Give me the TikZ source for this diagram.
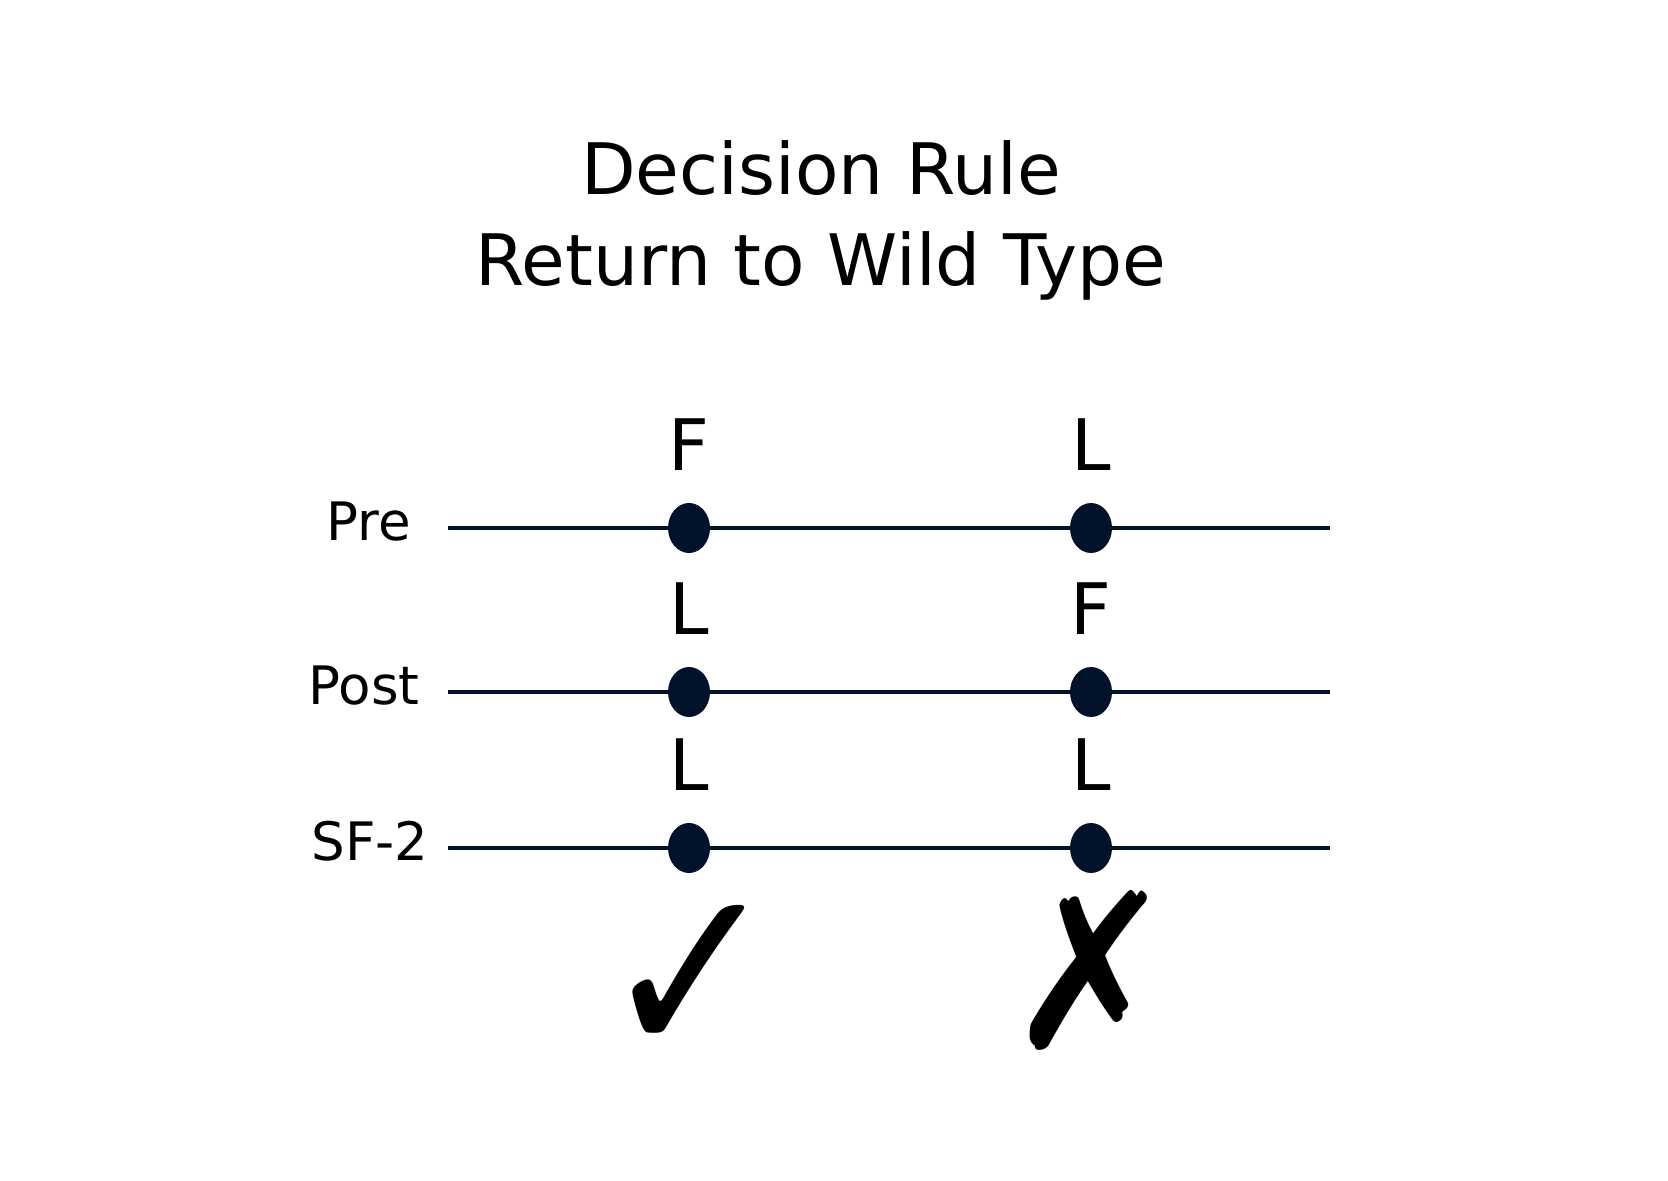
\documentclass[tikz,border=0pt]{standalone}
\usepackage{fontspec}
\setmainfont{DejaVu Sans}
\usetikzlibrary{shapes.geometric}
\definecolor{linenavy}{HTML}{02122B}
\begin{document}
\begin{tikzpicture}
  [
    x=0.5pt, y=-0.5pt,
    track/.style={draw=linenavy, line width=2.2pt},
    allele/.style={ellipse, fill=linenavy, inner sep=0pt, minimum width=21pt, minimum height=25pt},
    letter/.style={font=\fontsize{35.5}{40}\selectfont, anchor=base, inner sep=0pt},
    rowlabel/.style={font=\fontsize{26.5}{30}\selectfont, anchor=base, inner sep=0pt},
    heading/.style={font=\fontsize{35.5}{40}\selectfont, anchor=base, inner sep=0pt},
    verdict/.style={inner sep=0pt},
  ]
  \useasboundingbox (0,0) rectangle (1668,1181);
  % title
  \node (title1) at (821,195) [heading] {Decision Rule};
  \node (title2) at (821,286) [heading] {Return to Wild Type};
  % row ends
  \coordinate (preL) at (448,528);
  \coordinate (preR) at (1330,528);
  \coordinate (postL) at (448,692);
  \coordinate (postR) at (1330,692);
  \coordinate (sfL) at (448,848);
  \coordinate (sfR) at (1330,848);
  \draw[track] (preL) -- (preR);
  \draw[track] (postL) -- (postR);
  \draw[track] (sfL) -- (sfR);
  % row labels
  \node (pre) at (369,540) [rowlabel] {Pre};
  \node (post) at (364,704) [rowlabel] {Post};
  \node (sf) at (370,860) [rowlabel] {SF-2};
  % markers
  \node (preA) at (689,528) [allele] {};
  \node (preB) at (1091,528) [allele] {};
  \node (postA) at (689,692) [allele] {};
  \node (postB) at (1091,692) [allele] {};
  \node (sfA) at (689,848) [allele] {};
  \node (sfB) at (1091,848) [allele] {};
  % allele letters
  \node at (689,470) [letter] {F};
  \node at (1091,470) [letter] {L};
  \node at (689,634) [letter] {L};
  \node at (1091,634) [letter] {F};
  \node at (689,790) [letter] {L};
  \node at (1091,790) [letter] {L};
  % verdicts
  \node (yes) at (691,981) [verdict, font=\fontsize{120}{130}\selectfont] {\scalebox{0.9}[1]{✓}};
  \node (no) at (1091,970) [verdict, font=\fontsize{108}{120}\selectfont] {\scalebox{0.93}[1]{✗}};
\end{tikzpicture}
\end{document}
